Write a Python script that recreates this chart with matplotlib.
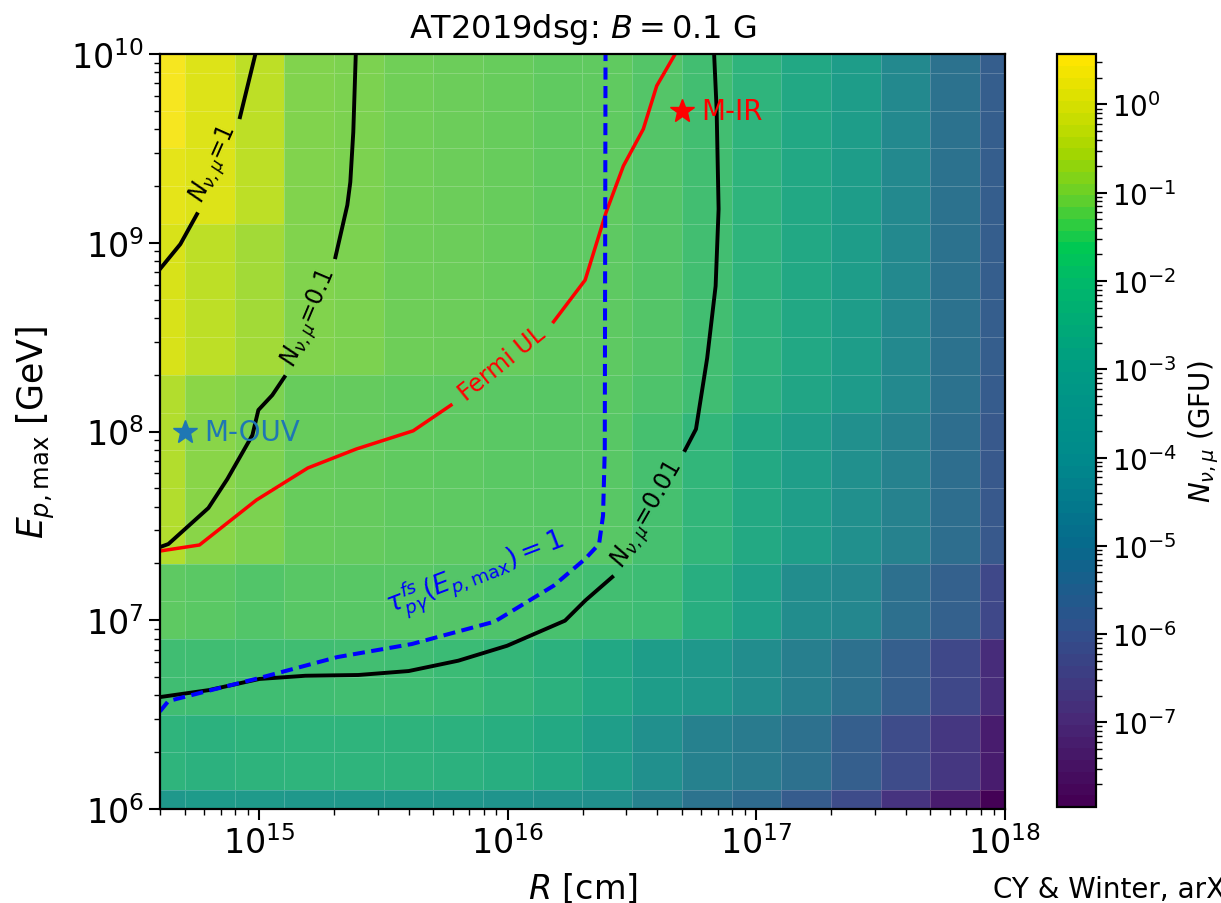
import numpy as np
import matplotlib
matplotlib.use("Agg")
import matplotlib.pyplot as plt
from matplotlib.colors import LogNorm, LinearSegmentedColormap
import matplotlib.cm as cm

# grid of the scan (cell centres, log10)
log_R = [14.6, 14.8, 15.0, 15.2, 15.4, 15.6, 15.8, 16.0, 16.2,
         16.4, 16.6, 16.8, 17.0, 17.2, 17.4, 17.6, 17.8, 18.0]
log_E = [10.0, 9.8, 9.6, 9.4, 9.2, 9.0, 8.8, 8.6, 8.4, 8.2, 8.0,
         7.8, 7.6, 7.4, 7.2, 7.0, 6.8, 6.6, 6.4, 6.2, 6.0]

# log10 N_nu,mu, rows from top (E=1e10) to bottom (E=1e6)
row_a = [0.45, 0.12, -0.28, -1.05, -1.1, -1.28, -1.35, -1.4, -1.5, -1.5, -1.7, -2.0, -2.4, -2.85, -3.25, -3.95, -4.75, -5.45]
row_b = [0.22, 0.12, -0.28, -1.05, -1.1, -1.28, -1.35, -1.4, -1.5, -1.5, -1.7, -2.0, -2.4, -2.85, -3.25, -3.95, -4.75, -5.45]
row_c = [0.05, -0.28, -0.6, -1.05, -1.1, -1.3, -1.35, -1.42, -1.5, -1.55, -1.72, -2.0, -2.4, -2.85, -3.25, -3.95, -4.75, -5.45]
row_d = [-0.4, -0.9, -1.1, -1.4, -1.45, -1.5, -1.55, -1.6, -1.65, -1.6, -1.8, -2.05, -2.5, -2.95, -3.3, -3.95, -4.75, -5.5]
row_e = [-0.4, -0.95, -1.1, -1.4, -1.45, -1.5, -1.55, -1.6, -1.65, -1.65, -1.95, -2.35, -2.8, -3.2, -3.7, -4.2, -4.9, -5.6]
row_f = [-1.55, -1.6, -1.75, -1.65, -1.65, -1.65, -1.72, -1.82, -1.9, -2.0, -2.1, -2.6, -3.1, -3.8, -4.0, -4.85, -5.35, -6.1]
row_g = [-2.05, -2.05, -2.05, -2.05, -2.0, -2.05, -2.15, -2.3, -2.5, -2.85, -3.25, -3.4, -3.8, -4.3, -4.8, -5.4, -6.1, -6.9]
row_h = [-2.4, -2.5, -2.45, -2.4, -2.4, -2.45, -2.5, -2.6, -2.8, -3.2, -3.7, -4.25, -4.45, -4.8, -5.4, -6.0, -6.6, -7.3]
row_i = [-3.4, -3.3, -3.35, -3.4, -3.4, -3.4, -3.45, -3.55, -3.65, -3.7, -4.2, -4.7, -5.0, -5.5, -6.0, -6.7, -7.3, -7.9]
log_N = [row_a, row_a, row_a, row_b, row_b, row_c, row_c, row_c, row_c,
         row_d, row_e, row_e, row_e, row_e, row_f, row_f,
         row_g, row_g, row_h, row_h, row_i]

# contour / boundary lines (log10 R, log10 E); nan = gap for the label
n1_R = [14.60, 14.682, 14.749, np.nan, 14.922, 14.984]
n1_E = [8.861, 8.993, 9.152, np.nan, 9.666, 10.0]
n01_R = [14.60, 14.634, 14.795, 14.871, 14.972, 14.996, 15.052, 15.101, np.nan,
         15.306, 15.354, 15.366, 15.378, 15.388]
n01_E = [7.388, 7.404, 7.595, 7.748, 7.981, 8.114, 8.193, 8.289, np.nan,
         8.924, 9.2, 9.322, 9.587, 10.0]
n001_R = [14.60, 14.797, 15.0, 15.185, 15.398, 15.601, 15.801, 15.997, 16.230,
          16.311, 16.420, np.nan, 16.713, 16.757, 16.802, 16.836, 16.848, 16.840, 16.830]
n001_E = [6.593, 6.630, 6.689, 6.706, 6.710, 6.731, 6.786, 6.865, 6.998,
          7.104, 7.229, np.nan, 7.902, 8.013, 8.389, 8.771, 9.179, 9.709, 10.0]
fermi_R = [14.60, 14.759, 14.988, 15.195, 15.389, 15.619, 15.771, np.nan,
           16.184, 16.311, 16.395, 16.465, 16.545, 16.599, 16.673]
fermi_E = [7.367, 7.399, 7.637, 7.807, 7.907, 8.004, 8.140, np.nan,
           8.582, 8.803, 9.161, 9.408, 9.603, 9.832, 10.0]
tau_R = [14.60, 14.634, 14.797, 15.0, 15.314, 15.613, 15.947, 16.184,
         16.311, 16.367, 16.383, 16.39, 16.393]
tau_E = [6.517, 6.572, 6.627, 6.694, 6.805, 6.874, 6.993, 7.183,
         7.325, 7.404, 7.554, 7.907, 10.0]

models = ["M-OUV", "M-IR"]
model_R = [5e14, 5e16]
model_E = [1e8, 5e9]


def log_edges(c):
    c = np.asarray(c, dtype=float)
    mid = (c[1:] + c[:-1]) / 2
    return np.concatenate([[2 * c[0] - mid[0]], mid, [2 * c[-1] - mid[-1]]])


R_edges = 10 ** log_edges(log_R)
E_edges = 10 ** log_edges(log_E)
N = 10 ** np.array(log_N)

fig = plt.figure(figsize=(12.21, 9.04), dpi=100)
ax = fig.add_axes([0.131, 0.104, 0.692, 0.835])
cax = fig.add_axes([0.866, 0.106, 0.032, 0.833])

norm = LogNorm(vmin=10 ** -7.96, vmax=10 ** 0.57)
ax.pcolormesh(R_edges, E_edges, N, cmap="viridis", norm=norm, shading="flat",
              edgecolors=(1, 1, 1, 0.2), linewidth=0.6)


def pts(lr, le):
    return 10 ** np.array(lr), 10 ** np.array(le)


for lr, le in [(n1_R, n1_E), (n01_R, n01_E), (n001_R, n001_E)]:
    ax.plot(*pts(lr, le), color="k", lw=2.8)
ax.plot(*pts(fermi_R, fermi_E), color="red", lw=2.5)
ax.plot(*pts(tau_R, tau_E), color="blue", lw=2.9, ls=(0, (3, 1.6)))

lab = dict(ha="center", va="center", rotation_mode="anchor", fontsize=17)
ax.text(10 ** 14.82, 10 ** 9.42, r"$N_{\nu,\mu}$=1", rotation=66, color="k", **lab)
ax.text(10 ** 15.205, 10 ** 8.607, r"$N_{\nu,\mu}$=0.1", rotation=67, color="k", **lab)
ax.text(10 ** 16.566, 10 ** 7.566, r"$N_{\nu,\mu}$=0.01", rotation=60, color="k", **lab)
ax.text(10 ** 15.977, 10 ** 8.363, "Fermi UL", rotation=39, color="red", **lab)
lab["fontsize"] = 19
ax.text(10 ** 15.869, 10 ** 7.25, r"$\tau_{p\gamma}^{fs}(E_{p,\max}) = 1$",
        rotation=21, color="blue", **lab)

colors = ["tab:blue", "red"]
for name, r, e, c in zip(models, model_R, model_E, colors):
    ax.plot(r, e, "*", color=c, ms=18)
    ax.text(r * 1.2, e, name, color=c, fontsize=20, va="center")

ax.set_xscale("log")
ax.set_yscale("log")
ax.set_xlim(10 ** 14.6, 1e18)
ax.set_ylim(1e6, 1e10)
ax.set_xlabel(r"$R$ [cm]", fontsize=24, labelpad=8)
ax.set_ylabel(r"$E_{p,\mathrm{max}}$ [GeV]", fontsize=25, labelpad=10)
ax.set_title(r"AT2019dsg: $B = 0.1$ G", fontsize=23, pad=12)
ax.tick_params(which="major", labelsize=24, length=8, width=1.5)
ax.tick_params(which="minor", length=4, width=1.0)
for s in ax.spines.values():
    s.set_linewidth(1.6)

# colourbar as it looks in the original (more saturated greens)
bar_pos = [0.0, 0.113, 0.230, 0.347, 0.464, 0.581, 0.699, 0.746, 0.816, 0.874, 0.933, 1.0]
bar_col = ["#440054", "#482a78", "#31508c", "#066a8c", "#008a8c", "#009a84",
           "#00b86a", "#00c853", "#66d02a", "#a3d600", "#d2df00", "#fde500"]
bar_cmap = LinearSegmentedColormap.from_list("bar", list(zip(bar_pos, bar_col)), N=64)
sm = cm.ScalarMappable(norm=norm, cmap=bar_cmap)
cb = fig.colorbar(sm, cax=cax)
cb.set_label(r"$N_{\nu,\mu}$ (GFU)", fontsize=20, labelpad=6)
cb.ax.tick_params(which="major", labelsize=20, length=8, width=1.5)
cb.ax.tick_params(which="minor", length=4, width=1.0)
cb.outline.set_linewidth(1.6)

fig.text(0.813, 0.0, "CY & Winter, arXiv", fontsize=20, ha="left", va="bottom")

fig.savefig("out.png", dpi=100)
